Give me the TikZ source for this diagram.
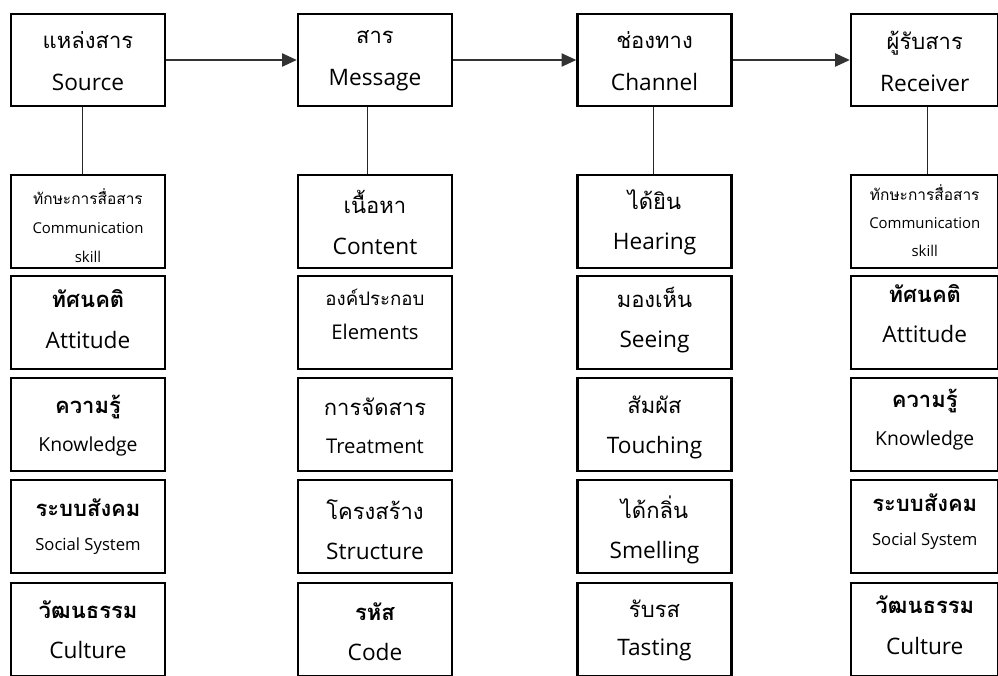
\documentclass[tikz,border=0pt]{standalone}
\usepackage{fontspec}
\setmainfont{Open Sans}
\newfontfamily\thaifont[Script=Thai]{Loma}
\usetikzlibrary{arrows.meta}
% text helpers: Thai lines (regular, bold, small) and Latin lines (four sizes)
\newcommand\thl[1]{{\thaifont\fontsize{16.5}{20}\selectfont #1}}
\newcommand\thb[1]{{\thaifont\bfseries\fontsize{16.5}{20}\selectfont #1}}
\newcommand\ths[1]{{\thaifont\fontsize{11.6}{20}\selectfont #1}}
\newcommand\thm[1]{{\thaifont\fontsize{14}{20}\selectfont #1}}
\newcommand\enl[1]{{\fontsize{17}{20}\selectfont #1}}
\newcommand\enm[1]{{\fontsize{15.2}{20}\selectfont #1}}
\newcommand\enk[1]{{\fontsize{14.5}{20}\selectfont #1}}
\newcommand\ens[1]{{\fontsize{12.5}{20}\selectfont #1}}
\newcommand\ent[1]{{\fontsize{11.2}{20}\selectfont #1}}
\begin{document}
\begin{tikzpicture}[x=0.75pt,y=-0.75pt,
  box/.style={draw, line width=1.9pt, inner sep=0pt,
              minimum width=115.5pt, minimum height=69.75pt},
  headbox/.style={box, minimum height=69pt},
  narrow/.style={minimum width=110.6pt},
  txt/.style={inner sep=0pt, align=center},
  lines/.style={font=\fontsize{12}{#1}\selectfont},
  conn/.style={line width=0.75pt, black!85},
  flow/.style={line width=0.8pt, black!80, -{Triangle[length=11pt,width=10pt]}}]
\useasboundingbox (0,0) rectangle (998,675);
\begin{scope}
\clip (0,0) rectangle (998,675);

% header row
\node[headbox] (src) at (88,60) {};
\node[headbox] (msg) at (375,60) {};
\node[headbox] (chn) at (654.5,60) {};
\node[headbox, narrow] (rcv) at (924.75,60) {};
\node[txt, lines=31.5pt] (src-t) at ([yshift=-0.75pt]src) {\thl{แหล่งสาร}\\\enl{Source}};
\node[txt, lines=31.5pt] (msg-t) at ([yshift=-0.75pt]msg) {\thl{สาร}\\\enl{Message}};
\node[txt, lines=31.5pt] (chn-t) at ([yshift=-0.75pt]chn) {\thl{ช่องทาง}\\\enl{Channel}};
\node[txt, lines=31.5pt] (rcv-t) at ([yshift=-0.75pt]rcv) {\thl{ผู้รับสาร}\\\enl{Receiver}};

% factor boxes, one row per level
\foreach \col/\cx/\st in {s/88/, m/375/, c/654.5/, r/924.75/narrow}
  \foreach \row/\cy in {1/221.5, 2/322.5, 3/424.5, 4/526.5, 5/629.5}
    \node[box, \st] (\col\row) at (\cx,\cy) {};

% source column
\node[txt, lines=21.75pt] (s1-t) at ([yshift=-3pt]s1) {\ths{ทักษะการสื่อสาร}\\\ent{Communication}\\\ent{skill}};
\node[txt, lines=30.5pt] (s2-t) at ([yshift=2.5pt]s2) {\thb{ทัศนคติ}\\\enl{Attitude}};
\node[txt, lines=28.5pt] (s3-t) at ([yshift=-1pt]s3) {\thb{ความรู้}\\\enk{Knowledge}};
\node[txt, lines=25pt] (s4-t) at (s4) {\thb{ระบบสังคม}\\\ens{Social System}};
\node[txt, lines=30pt] (s5-t) at (s5) {\thb{วัฒนธรรม}\\\enl{Culture}};

% message column
\node[txt, lines=30.5pt] (m1-t) at ([yshift=-0.75pt]m1) {\thl{เนื้อหา}\\\enl{Content}};
\node[txt, lines=26pt] (m2-t) at ([yshift=6pt]m2) {\thm{องค์ประกอบ}\\\enm{Elements}};
\node[txt, lines=28.5pt] (m3-t) at ([yshift=-1pt]m3) {\thl{การจัดสาร}\\\enm{Treatment}};
\node[txt, lines=30pt] (m4-t) at ([yshift=-2.5pt]m4) {\thl{โครงสร้าง}\\\enl{Structure}};
\node[txt, lines=30pt] (m5-t) at ([yshift=-2pt]m5) {\thb{รหัส}\\\enl{Code}};

% channel column
\node[txt, lines=29.5pt] (c1-t) at ([yshift=-0.75pt]c1) {\thl{ได้ยิน}\\\enl{Hearing}};
\node[txt, lines=30pt] (c2-t) at ([yshift=2pt]c2) {\thl{มองเห็น}\\\enl{Seeing}};
\node[txt, lines=30pt] (c3-t) at ([yshift=-2pt]c3) {\thl{สัมผัส}\\\enl{Touching}};
\node[txt, lines=30pt] (c4-t) at ([yshift=-2.5pt]c4) {\thl{ได้กลิ่น}\\\enl{Smelling}};
\node[txt, lines=28.5pt] (c5-t) at ([yshift=-1pt]c5) {\thl{รับรส}\\\enl{Tasting}};

% receiver column
\node[txt, lines=21pt] (r1-t) at ([yshift=1pt]r1) {\ths{ทักษะการสื่อสาร}\\\ent{Communication}\\\ent{skill}};
\node[txt, lines=30pt] (r2-t) at ([yshift=7pt]r2) {\thb{ทัศนคติ}\\\enl{Attitude}};
\node[txt, lines=29pt] (r3-t) at ([yshift=3.75pt]r3) {\thb{ความรู้}\\\enk{Knowledge}};
\node[txt, lines=25pt] (r4-t) at ([yshift=3.75pt]r4) {\thb{ระบบสังคม}\\\ens{Social System}};
\node[txt, lines=30.5pt] (r5-t) at ([yshift=3pt]r5) {\thb{วัฒนธรรม}\\\enl{Culture}};

% flow between the main elements
\draw[flow] (src.east) -- (msg.west);
\draw[flow] (msg.east) -- (chn.west);
\draw[flow] (chn.east) -- (rcv.west);

% links from each element to its factors
\draw[conn] ([xshift=-4.5pt]src.south) -- ([xshift=-4.5pt]s1.north);
\draw[conn] ([xshift=-6pt]msg.south) -- ([xshift=-6pt]m1.north);
\draw[conn] ([xshift=-1pt]chn.south) -- ([xshift=-1pt]c1.north);
\draw[conn] ([xshift=1.7pt]rcv.south) -- ([xshift=1.7pt]r1.north);
\end{scope}
\end{tikzpicture}
\end{document}
